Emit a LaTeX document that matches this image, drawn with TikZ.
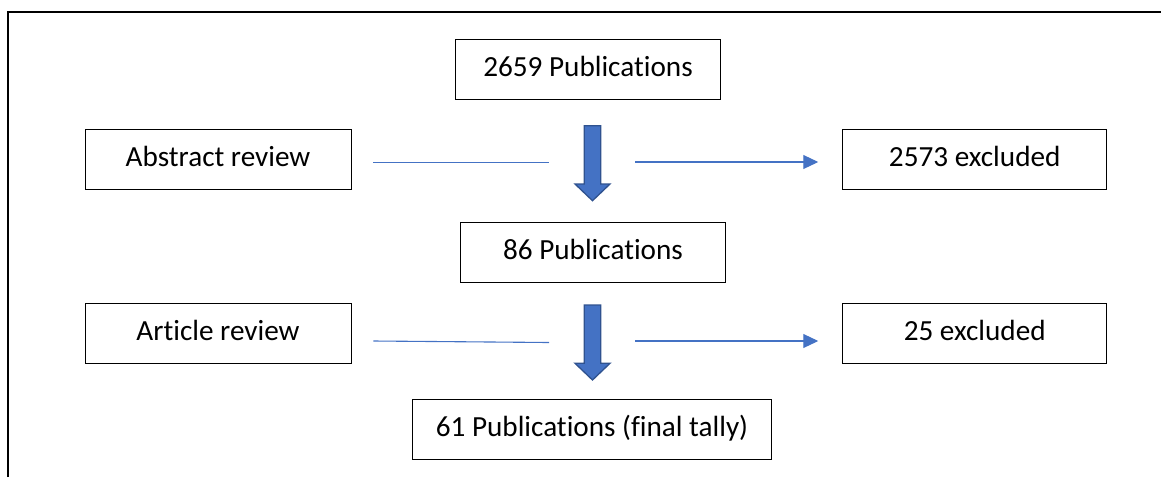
\documentclass[tikz,border=0pt]{standalone}
\usepackage{fontspec}
\setmainfont{Carlito}[Ligatures={NoCommon}]
\usetikzlibrary{arrows.meta}
\definecolor{flowblue}{HTML}{4472C4}
\definecolor{flowedge}{HTML}{2F528F}
\tikzset{
  stagebox/.style={draw=black, line width=0.9pt, inner sep=0pt,
    minimum height=60pt, text height=18.5pt, text depth=4pt,
    font=\fontsize{29.2}{35}\selectfont},
  link/.style={draw=flowblue, line width=1.1pt},
  linkarrow/.style={link, -{Triangle[length=15pt,width=14pt]}},
  bigdown/.pic={
    \draw[fill=flowblue, draw=flowedge, line width=1.3pt, line join=miter]
      (-8.3,0) -- (8.3,0) -- (8.3,58.3) -- (17.5,58.3) -- (0,75)
      -- (-17.5,58.3) -- (-8.3,58.3) -- cycle;
  }
}
\begin{document}
\begin{tikzpicture}[x=1pt, y=-1pt]
\useasboundingbox (0,0) rectangle (1161,477);
% outer frame: top and left edges only
\draw[line width=1.8pt] (8,477) -- (8,12) -- (1161,12);

% boxes
\node[stagebox, minimum width=265pt] (top)  at (588,69.7)    {2659 Publications};
\node[stagebox, minimum width=266pt] (abs)  at (218,159.3)   {Abstract review};
\node[stagebox, minimum width=264pt] (exc1) at (974.7,159.3) {2573 excluded};
\node[stagebox, minimum width=265pt, minimum height=59.3pt] (mid) at (593,252.3) {86 Publications};
\node[stagebox, minimum width=266pt] (art)  at (218,333)     {Article review};
\node[stagebox, minimum width=264pt] (exc2) at (974.7,333)   {25 excluded};
\node[stagebox, minimum width=359.4pt] (fin) at (592,429.3)  {61 Publications (final tally)};

% block arrows
\coordinate (down1) at (592.5,125.7);
\coordinate (down2) at (592.5,305);
\pic at (down1) {bigdown};
\pic at (down2) {bigdown};

% side connectors, first stage
\coordinate (l1end) at (549,162.7);
\coordinate (r1start) at (635,162);
\draw[link] ([xshift=22pt,yshift=-3.4pt]abs.east) -- (l1end);
\draw[linkarrow] (r1start) -- ([xshift=-24pt,yshift=-2.7pt]exc1.west);

% side connectors, second stage
\coordinate (l2end) at (549,342.5);
\coordinate (r2start) at (635,341);
\draw[link] ([xshift=22pt,yshift=-8pt]art.east) -- (l2end);
\draw[linkarrow] (r2start) -- ([xshift=-24pt,yshift=-8pt]exc2.west);
\end{tikzpicture}
\end{document}
